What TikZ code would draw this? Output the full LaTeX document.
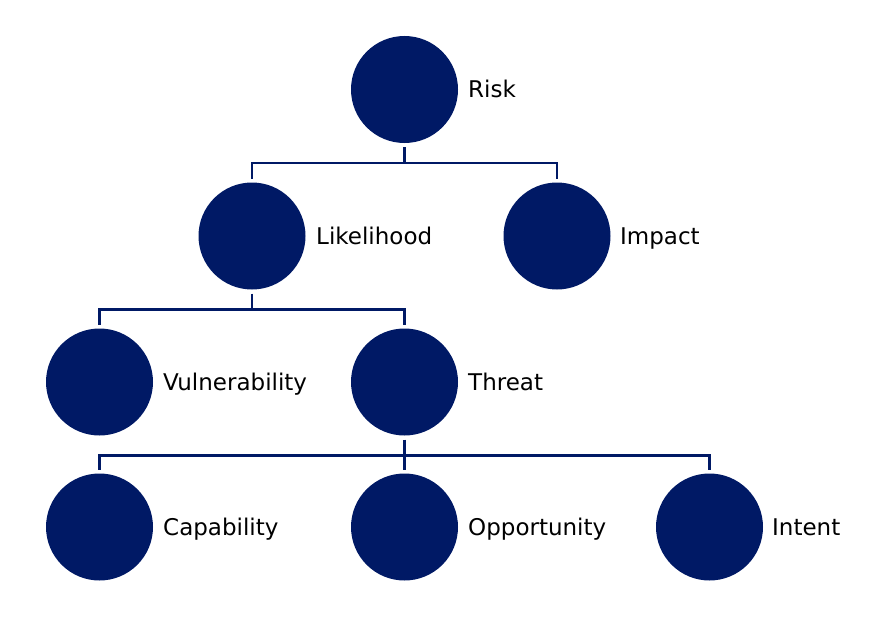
\documentclass[tikz,border=0pt]{standalone}
\usepackage{fontspec}
\setmainfont{DejaVu Sans}
\begin{document}
\begin{tikzpicture}[x=1pt,y=-1pt,
  ball/.style={circle,fill=navy,draw=none,minimum size=107,inner sep=0,outer sep=4},
  lbl/.style={anchor=base west,font=\fontsize{23}{27}\selectfont,inner sep=0,text=black},
  conn/.style={draw=navy,line width=2.8}]
\definecolor{navy}{HTML}{001965}
\useasboundingbox (0,0) rectangle (881,626);
\node[ball] (risk) at (404.5,89.5) {};
\node[ball] (likelihood) at (252,236) {};
\node[ball] (impact) at (557,236) {};
\node[ball] (vulnerability) at (99.5,382) {};
\node[ball] (threat) at (404.5,382) {};
\node[ball] (capability) at (99.5,527) {};
\node[ball] (opportunity) at (404.5,527) {};
\node[ball] (intent) at (709.5,527) {};
\node[lbl] (lrisk) at (468,98) {Risk};
\node[lbl] (llikelihood) at (316,244.5) {Likelihood};
\node[lbl] (limpact) at (620,244.5) {Impact};
\node[lbl] (lvulnerability) at (163,390.5) {Vulnerability};
\node[lbl] (lthreat) at (468,390.5) {Threat};
\node[lbl] (lcapability) at (163,535.5) {Capability};
\node[lbl] (lopportunity) at (468,535.5) {Opportunity};
\node[lbl] (lintent) at (772,535.5) {Intent};
\draw[conn] (risk.south) -- ++(0,16) coordinate (b1);
\draw[conn] (likelihood.north) |- (b1) -| (impact.north);
\draw[conn] (likelihood.south) -- ++(0,16) coordinate (b2);
\draw[conn] (vulnerability.north) |- (b2) -| (threat.north);
\draw[conn] (threat.south) -- ++(0,16) coordinate (b3);
\draw[conn] (capability.north) |- (b3) -| (intent.north);
\draw[conn] (b3) -- (opportunity.north);
\end{tikzpicture}
\end{document}
